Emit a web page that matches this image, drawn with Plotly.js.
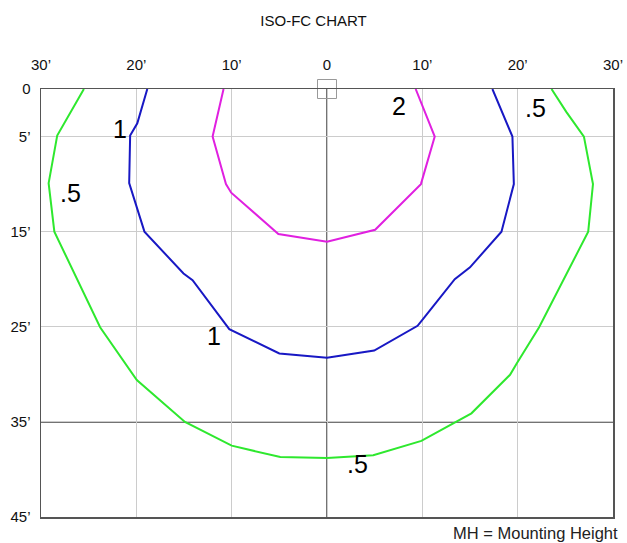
<!DOCTYPE html>
<html>
<head>
<meta charset="utf-8">
<script src="https://cdn.plot.ly/plotly-3.0.1.min.js"></script>
<style>html,body{margin:0;padding:0;background:#fff;}#chart{width:627px;height:543px;}</style>
</head>
<body>
<div id="chart"></div>
<script>
// Iso-footcandle contours (x: feet from fixture, y: feet down)
const fc05X = [-25.5, -28.3, -29.2, -28.6, -23.8, -19.95, -14.9, -10.0, -4.9, 0.0, 4.85, 9.9, 15.15, 19.2, 19.9, 22.25, 27.4, 27.9, 26.95, 25.1, 23.55];
const fc05Y = [0, 4.9, 9.9, 15.0, 25.05, 30.6, 35.0, 37.5, 38.7, 38.8, 38.5, 37.0, 34.1, 30.05, 28.85, 25.05, 15.0, 10.0, 5.0, 2.4, 0];

const fc1X = [-18.85, -19.9, -20.65, -20.75, -19.15, -15.05, -14.1, -10.25, -5.0, 0.0, 4.95, 9.5, 10.15, 13.4, 15.0, 18.3, 19.6, 19.45, 17.35];
const fc1Y = [0, 3.6, 4.9, 9.9, 15.0, 19.4, 20.1, 25.25, 27.8, 28.25, 27.5, 24.9, 24.1, 20.0, 18.75, 15.0, 10.0, 5.0, 0];

const fc2X = [-10.85, -12.0, -10.6, -10.05, -5.1, 0.0, 5.05, 9.85, 11.3, 9.3];
const fc2Y = [0, 5.0, 10.0, 10.9, 15.25, 16.05, 14.8, 10.0, 5.0, 0];

const xTickVals = [-30, -20, -10, 0, 10, 20, 30];
const xTickText = ['30\u2019', '20\u2019', '10\u2019', '0', '10\u2019', '20\u2019', '30\u2019'];
const yTickVals = [0, 5, 15, 25, 35, 45];
const yTickText = ['0', '5\u2019', '15\u2019', '25\u2019', '35\u2019', '45\u2019'];

const labelText = ['1', '.5', '1', '.5', '2', '.5'];
const labelX = [-21.7, -26.9, -11.85, 3.25, 7.55, 21.9];
const labelY = [4.2, 10.95, 25.95, 39.4, 1.8, 2.0];

const fixtureX = [0];
const fixtureY = [0];

const FONT = '"Liberation Sans", Arial, Helvetica, sans-serif';

const traces = [
  {x: fc05X, y: fc05Y, mode: 'lines', line: {color: '#2ee82e', width: 2}, hoverinfo: 'skip'},
  {x: fc1X, y: fc1Y, mode: 'lines', line: {color: '#1818c4', width: 2}, hoverinfo: 'skip'},
  {x: fc2X, y: fc2Y, mode: 'lines', line: {color: '#e020e0', width: 2}, hoverinfo: 'skip'},
  {x: fixtureX, y: fixtureY, mode: 'markers', cliponaxis: false,
   marker: {symbol: 'square-open', size: 19, color: '#999', line: {width: 1, color: '#999'}}, hoverinfo: 'skip'}
];

const annotations = labelText.map((t, i) => ({
  x: labelX[i], y: labelY[i], xref: 'x', yref: 'y', text: t, showarrow: false,
  font: {family: FONT, size: 25, color: '#000'}, xanchor: 'center', yanchor: 'middle'
}));
annotations.push({
  xref: 'paper', yref: 'paper', x: 1.012, y: -0.037, xanchor: 'right', yanchor: 'middle',
  text: 'MH = Mounting Height', showarrow: false, font: {family: FONT, size: 16.5, color: '#222'}
});

const layout = {
  width: 627, height: 543, autosize: false,
  margin: {l: 41, r: 14, t: 89, b: 26, pad: 0},
  paper_bgcolor: '#fff', plot_bgcolor: '#fff',
  showlegend: false,
  font: {family: FONT, size: 15, color: '#111'},
  title: {text: 'ISO-FC CHART', font: {family: FONT, size: 15, color: '#111'}, x: 0.5, xanchor: 'center', y: 0.962, yanchor: 'middle'},
  xaxis: {
    range: [-30, 30], side: 'top', tickmode: 'array', tickvals: xTickVals, ticktext: xTickText,
    showgrid: true, gridcolor: '#cccccc', gridwidth: 1, zeroline: false,
    showline: true, mirror: true, linecolor: '#555', linewidth: 1.5,
    ticks: 'outside', ticklen: 12, tickcolor: 'rgba(0,0,0,0)',
    tickfont: {family: FONT, size: 15, color: '#111'}, fixedrange: true
  },
  yaxis: {
    range: [45, 0], tickmode: 'array', tickvals: yTickVals, ticktext: yTickText,
    showgrid: true, gridcolor: '#cccccc', gridwidth: 1, zeroline: false,
    showline: true, mirror: true, linecolor: '#555', linewidth: 1.5,
    ticks: 'outside', ticklen: 6, tickcolor: 'rgba(0,0,0,0)',
    tickfont: {family: FONT, size: 15, color: '#111'}, fixedrange: true
  },
  shapes: [
    {type: 'line', xref: 'x', yref: 'paper', x0: 0, x1: 0, y0: 0, y1: 1, layer: 'below', line: {color: '#444', width: 1.5}},
    {type: 'line', xref: 'paper', yref: 'y', x0: 0, x1: 1, y0: 35, y1: 35, layer: 'below', line: {color: '#444', width: 1.5}}
  ],
  annotations: annotations
};

Plotly.newPlot('chart', traces, layout, {displayModeBar: false, staticPlot: true});
</script>
</body>
</html>
